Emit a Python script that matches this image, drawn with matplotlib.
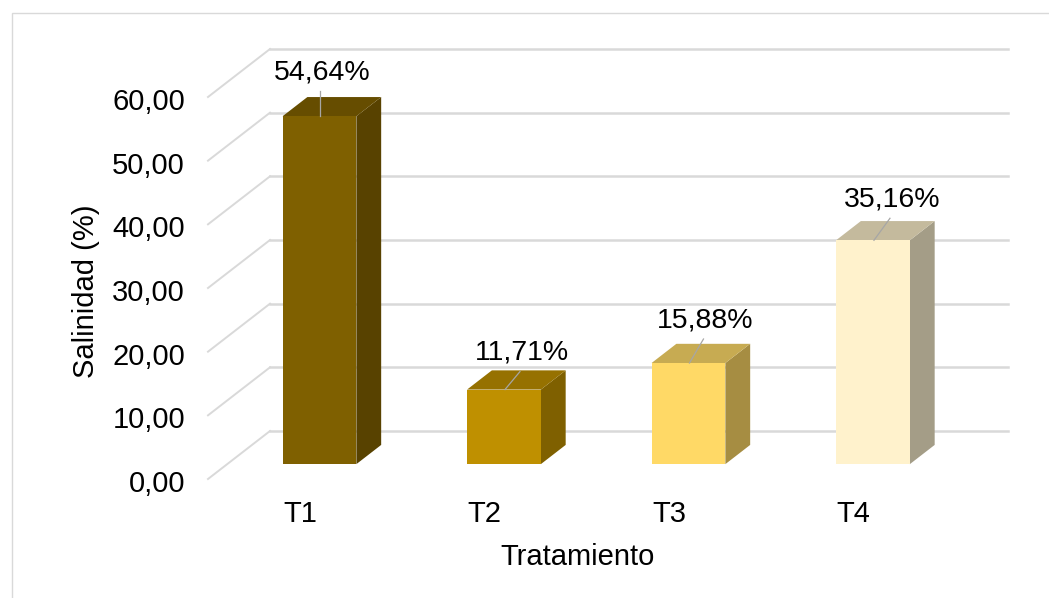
import numpy as np
import matplotlib
matplotlib.use('Agg')
import matplotlib.pyplot as plt
from matplotlib import transforms
from matplotlib.patches import Polygon, Rectangle

# data
categories = ['T1', 'T2', 'T3', 'T4']
salinity = [54.64, 11.71, 15.88, 35.16]
y_ticks = [0, 10, 20, 30, 40, 50, 60]

# styling
front_colors = ['#7F6000', '#BF9000', '#FFD966', '#FFF2CC']
top_colors = ['#664D00', '#967100', '#C7AB52', '#C4BA9D']
side_colors = ['#584200', '#7F6000', '#A68D42', '#A49D87']
label_nudge = [3, 18, 17, 19]   # px, horizontal shift of the value labels
label_rise = [44, 37, 43, 41]   # px above the front top edge

plt.rcParams['font.family'] = ['Liberation Sans', 'DejaVu Sans']
plt.rcParams['font.size'] = 21

fig = plt.figure(figsize=(10.49, 5.98), dpi=100)
W, H = 1049, 598
# axes = back wall of the 3d box
ax = fig.add_axes([270 / W, (H - 431) / H, 738 / W, 382 / H])
ax.set_xlim(-0.5, 3.5)
ax.set_ylim(0, 60)
ax.axis('off')

# depth direction (px): back wall -> front floor edge
depth = np.array([-62.0, -48.0])
bar_front = 0.69
bar_back = 0.29
bar_w = 0.4


def shift(px):
    return transforms.ScaledTranslation(px[0] / fig.dpi, px[1] / fig.dpi, fig.dpi_scale_trans)


def to_px(x, y, t):
    p = ax.transData.transform((x, y))
    return p + depth * t


ident = transforms.IdentityTransform()
grid_c = '#D9D9D9'
for v in y_ticks:
    ax.plot([-0.5, 3.5], [v, v], color=grid_c, lw=1.8, zorder=1, clip_on=False)
    p0 = to_px(-0.5, v, 0)
    p1 = to_px(-0.5, v, 1)
    ax.plot([p0[0], p1[0]], [p0[1], p1[1]], color=grid_c, lw=1.4,
            transform=ident, zorder=1, clip_on=False)
    ax.text(-0.5, v, f"{v:.2f}".replace('.', ','), ha='right', va='center',
            transform=ax.transData + shift(depth + [-23, -5]))

for i, (cat, val) in enumerate(zip(categories, salinity)):
    x0, x1 = i - bar_w / 2, i + bar_w / 2
    # side face
    side = [to_px(x1, 0, bar_front), to_px(x1, val, bar_front),
            to_px(x1, val, bar_back), to_px(x1, 0, bar_back)]
    ax.add_patch(Polygon(side, closed=True, facecolor=side_colors[i],
                         edgecolor='none', transform=ident, zorder=3, clip_on=False))
    # top face
    top = [to_px(x0, val, bar_front), to_px(x1, val, bar_front),
           to_px(x1, val, bar_back), to_px(x0, val, bar_back)]
    ax.add_patch(Polygon(top, closed=True, facecolor=top_colors[i],
                         edgecolor='none', transform=ident, zorder=3, clip_on=False))
    # front face
    ax.add_patch(Rectangle((x0, 0), bar_w, val, facecolor=front_colors[i],
                           edgecolor='none', zorder=4, clip_on=False,
                           transform=ax.transData + shift(depth * bar_front)))

    # value label with leader line
    ft = to_px(i, val, bar_front)
    lx, ly = ft[0] + label_nudge[i], ft[1] + label_rise[i]
    ax.text(lx, ly, f"{val:.2f}".replace('.', ',') + '%', ha='center', va='center',
            fontsize=20.5, transform=ident, zorder=6)
    ax.plot([lx - 2, ft[0] + 1], [ly - 19, ft[1]], color='#A6A6A6', lw=0.9,
            transform=ident, zorder=5, clip_on=False)

    # category label on the front floor edge
    ax.text(i, 0, cat, ha='center', va='center',
            transform=ax.transData + shift(depth + [0, -35]))

fig.text(578 / W, 1 - 557 / H, 'Tratamiento', ha='center', va='center')
fig.text(86 / W, 1 - 291 / H, 'Salinidad (%)', rotation=90, ha='center', va='center')

# chart frame
fig.patches.append(Rectangle((12 / W, -0.05), 1.1, 1 - 13 / H + 0.05, fill=False,
                             edgecolor='#D9D9D9', lw=1.0, transform=fig.transFigure))

plt.savefig('out.png', dpi=100)
